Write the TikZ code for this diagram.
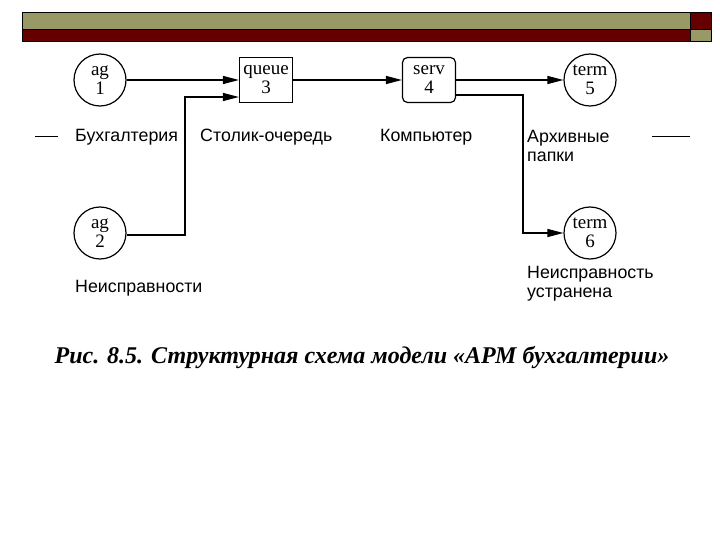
\documentclass[tikz,border=0pt]{standalone}
\usepackage{fontspec}
\setmainfont{Liberation Serif}
\newfontfamily\lab{Liberation Sans}
\usetikzlibrary{arrows.meta}
\begin{document}
\begin{tikzpicture}[x=1pt,y=-1pt,
  circ/.style={draw,circle,minimum size=52pt,inner sep=0pt,align=center,font=\fontsize{19}{19}\selectfont,line width=1.2pt},
  boxn/.style={draw,minimum width=53pt,minimum height=45pt,inner sep=0pt,align=center,font=\fontsize{19}{19}\selectfont,line width=1.2pt},
  arr/.style={line width=1.3pt,-{Triangle[length=16pt,width=8pt]}},
  lbl/.style={font=\lab\fontsize{17.8}{19}\selectfont,inner sep=0pt,align=left}]
\useasboundingbox (0,0) rectangle (720,540);
\fill[white] (0,0) rectangle (720,540);
\fill[fill={rgb,255:red,153;green,153;blue,102}] (22,12) rectangle (690,29);
\fill[fill={rgb,255:red,102;green,0;blue,0}] (22,29) rectangle (690,41);
\fill[fill={rgb,255:red,102;green,0;blue,0}] (690,12) rectangle (711,29);
\fill[fill={rgb,255:red,153;green,153;blue,102}] (690,29) rectangle (711,41);
\draw (22,12) rectangle (711,41);
\draw (22,29) -- (711,29);
\draw (690,12) -- (690,41);
\draw[line width=0.8pt] (35,136) -- (58,136) (652,136) -- (690,136);
\node[circ] (a1) at (100,80) {ag\\1};
\node[boxn] (q) at (266,80) {queue\\3};
\node[boxn,rounded corners=5pt] (s) at (429,80) {serv\\4};
\node[circ] (t5) at (590,80) {term\\5};
\node[circ] (a2) at (100,233) {ag\\2};
\node[circ] (t6) at (590,233) {term\\6};
\draw[arr] (a1) -- (q);
\draw[arr] (q) -- (s);
\draw[arr] (s) -- (t5);
\draw[arr] (a2.east |- 0,235) -| (185,97) -- (q.west |- 0,97);
\draw[arr] (s.east |- 0,95) -| (523,233) -- (t6);
\node[lbl,anchor=west] (l1) at (75,137) {Бухгалтерия};
\node[lbl,anchor=west] (l2) at (200,137) {Столик-очередь};
\node[lbl,anchor=west] (l3) at (380,137) {Компьютер};
\node[lbl,anchor=north west] (l4) at (527,130) {Архивные\\папки};
\node[lbl,anchor=west] (l5) at (75,288) {Неисправности};
\node[lbl,anchor=north west] (l6) at (527,266) {Неисправность\\устранена};
\node[font=\bfseries\itshape\fontsize{24}{24}\selectfont] (cap) at (362,357) {Рис. 8.5. Структурная схема модели «АРМ бухгалтерии»};
\end{tikzpicture}
\end{document}
